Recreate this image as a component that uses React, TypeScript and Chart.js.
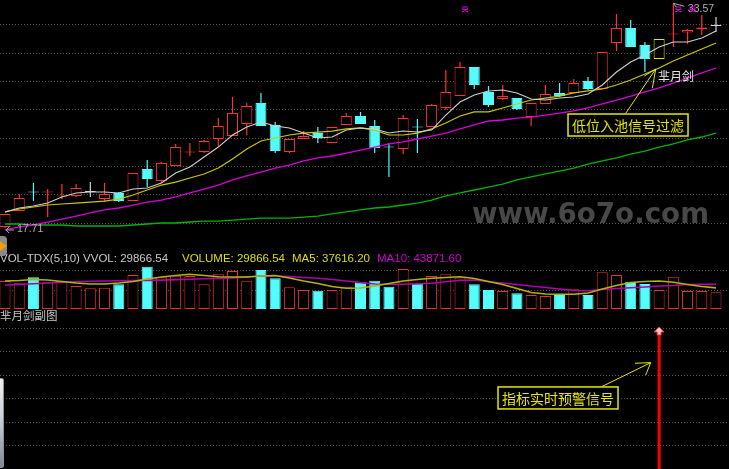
import React, { useEffect, useRef } from "react";
import { Chart, registerables } from "chart.js";

Chart.register(...registerables);

// ---------------- data ----------------
const opens = [17.78, 18.91, 20.29, 20.22, 19.93, 19.97, 20.25, 19.76, 20.18, 19.62,
  21.87, 21.03, 22.09, 23.04, 23.07, 23.99, 24.20, 25.05, 26.53, 24.98,
  23.07, 23.99, 24.42, 23.71, 24.98, 25.61, 24.91, 23.46, 23.29, 24.87,
  24.84, 26.18, 27.03, 29.07, 27.31, 26.81, 26.88, 25.54, 26.46, 27.24,
  27.24, 28.08, 27.52, 30.77, 31.83, 30.63, 29.64, 31.37, 31.51, 31.72, 31.97];
const highs = [18.72, 20.11, 20.89, 20.46, 20.82, 20.82, 20.96, 20.89, 20.25, 21.59,
  22.51, 22.37, 23.64, 23.71, 23.92, 25.47, 26.96, 26.53, 27.24, 25.19,
  23.99, 24.56, 24.84, 24.84, 25.83, 25.90, 25.33, 23.71, 25.69, 25.40,
  26.46, 28.86, 29.43, 29.07, 27.73, 27.80, 26.88, 26.53, 27.80, 27.94,
  28.23, 28.37, 30.13, 32.81, 32.39, 30.84, 31.05, 33.57, 31.76, 32.74, 32.60];
const lows = [17.71, 18.91, 19.62, 18.49, 19.76, 19.90, 19.90, 19.55, 19.55, 19.62,
  20.60, 20.89, 22.09, 22.79, 23.00, 23.50, 24.20, 24.27, 24.91, 23.00,
  23.00, 23.99, 23.71, 23.71, 24.98, 25.05, 23.00, 21.31, 22.93, 23.00,
  24.84, 26.04, 27.03, 27.52, 26.25, 26.74, 26.04, 24.91, 26.46, 26.96,
  27.24, 27.45, 27.52, 30.20, 30.48, 28.72, 29.64, 30.48, 30.70, 31.33, 31.54];
const closes = [18.70, 19.83, 20.22, 20.29, 20.00, 20.53, 20.25, 20.11, 19.62, 21.59,
  21.17, 22.30, 23.43, 23.11, 23.85, 24.91, 25.83, 26.32, 24.91, 23.14,
  23.99, 24.20, 24.06, 24.84, 25.61, 25.05, 23.36, 23.39, 25.47, 24.80,
  26.39, 27.31, 29.07, 27.80, 26.39, 27.03, 26.11, 26.53, 27.17, 27.03,
  27.94, 27.52, 30.13, 31.83, 30.48, 29.64, 31.05, 31.44, 31.68, 31.86, 31.97];

const ma5 = [18.84, 19.12, 19.26, 19.47, 19.90, 20.18, 20.25, 20.25, 20.18, 20.46,
  20.53, 20.88, 21.59, 22.01, 22.72, 23.42, 24.27, 24.84, 25.19, 24.91,
  24.77, 24.41, 24.06, 24.13, 24.62, 24.77, 24.69, 24.41, 24.55, 24.48,
  24.62, 25.68, 26.60, 27.09, 27.38, 27.45, 27.24, 26.81, 26.74, 26.88,
  26.95, 27.17, 27.80, 28.72, 29.42, 29.92, 30.48, 30.84, 30.84, 31.12, 31.61];
const ma10 = [18.84, 19.05, 19.19, 19.33, 19.40, 19.47, 19.54, 19.61, 19.75, 20.04,
  20.39, 20.74, 20.95, 21.24, 21.52, 21.94, 22.58, 23.28, 23.85, 24.06,
  24.27, 24.41, 24.48, 24.55, 24.70, 24.77, 24.62, 24.27, 24.27, 24.41,
  24.70, 25.12, 25.61, 25.90, 25.90, 26.18, 26.46, 26.74, 26.88, 27.02,
  27.24, 27.38, 27.52, 27.80, 28.15, 28.58, 29.00, 29.49, 29.92, 30.34, 30.77];
const ma20 = [17.57, 17.78, 17.92, 18.13, 18.34, 18.55, 18.77, 18.98, 19.12, 19.33,
  19.54, 19.68, 19.90, 20.18, 20.46, 20.74, 21.10, 21.38, 21.66, 21.94,
  22.15, 22.44, 22.65, 22.79, 23.00, 23.21, 23.42, 23.64, 23.78, 23.99,
  24.20, 24.41, 24.70, 24.98, 25.26, 25.33, 25.47, 25.54, 25.68, 25.82,
  25.97, 26.18, 26.46, 26.74, 27.02, 27.31, 27.59, 27.94, 28.29, 28.65, 29.00];
const ma60 = [17.99, 17.99, 17.92, 17.92, 17.92, 17.85, 17.85, 17.85, 17.85, 17.92,
  17.99, 18.06, 18.06, 18.13, 18.20, 18.20, 18.27, 18.34, 18.41, 18.41,
  18.41, 18.48, 18.55, 18.70, 18.84, 18.98, 19.12, 19.19, 19.33, 19.47,
  19.68, 19.97, 20.18, 20.39, 20.60, 20.81, 21.10, 21.31, 21.52, 21.73,
  21.94, 22.22, 22.44, 22.65, 22.93, 23.14, 23.42, 23.64, 23.92, 24.13, 24.41];

const vols = [49840, 45750, 56430, 47530, 49840, 40940, 36850, 37910, 43970, 60520,
  75290, 56430, 59270, 58740, 43970, 61770, 67640, 50370, 69420, 54650,
  38630, 33820, 32570, 33820, 39690, 47530, 50370, 39690, 71200, 45030,
  58740, 61770, 56070, 44140, 33820, 32040, 27950, 24920, 23140, 24920,
  35070, 24920, 65330, 60520, 48590, 44500, 33820, 57490, 32040, 32040, 29866.54];
const volMa5 = [49840, 50730, 52510, 51620, 48950, 46280, 44500, 44500, 46280, 48950,
  53400, 56960, 59630, 61770, 59630, 57490, 56960, 56960, 58740, 59630,
  55180, 49840, 45390, 40050, 36850, 37380, 40940, 45390, 49840, 52510,
  54650, 56070, 57490, 54290, 48950, 43610, 36490, 29370, 26700, 26170,
  26170, 28480, 35600, 41830, 47170, 48950, 49840, 47530, 43610, 40050, 37616.20];
const volMa10 = [42720, 43610, 44860, 46280, 47530, 48420, 49310, 49840, 50200, 50550,
  50910, 51440, 52330, 53040, 53760, 54470, 55360, 56960, 58740, 58740,
  57670, 56070, 54650, 52510, 49840, 47170, 44500, 43970, 43970, 44860,
  45920, 48420, 51090, 51620, 48420, 46280, 43610, 40940, 38270, 35600,
  32930, 32570, 34710, 36490, 37910, 39160, 40940, 41830, 43610, 43970, 43871.60];

// indicator: alarm signal strength per bar (only one fires)
const signals = [0, 0, 0, 0, 0, 0, 0, 0, 0, 0,
  0, 0, 0, 0, 0, 0, 0, 0, 0, 0,
  0, 0, 0, 0, 0, 0, 0, 0, 0, 0,
  0, 0, 0, 0, 0, 0, 0, 0, 0, 0,
  0, 0, 0, 0, 0, 0, 5.9, 0, 0, 0, 0];
const topMarks = [32, 47, 48];

const priceGrid = [18.04, 20.04, 22.04, 24.04, 26.04, 28.04, 30.04, 32.04];
const volGrid = [32570, 67640];
const indGrid = [1, 2, 3, 4, 5, 6];

const labelMain = "芈月剑";
const labelSub = "芈月剑副图";
const noteFilter = "低位入池信号过滤";
const noteWarn = "指标实时预警信号";
const watermark = "www.6o7o.com";

// ---------------- styles ----------------
const RED = "#ff3232";
const CYAN = "#54fcfc";
const WHITE = "#d4d4d4";
const YEL = "#e6e600";
const GRID = "#555555";
const X_MIN = -0.352;
const X_MAX = 50.914;

const N = closes.length;
const sigIdx = signals.findIndex((v) => v > 0);
const candleColor = (i: number) =>
  signals[i] > 0 ? YEL : closes[i] > opens[i] ? RED : closes[i] < opens[i] ? CYAN : WHITE;
const candleFill = (i: number) =>
  signals[i] > 0 || closes[i] > opens[i] ? "#000" : candleColor(i);

const fmt = (v: number) => v.toFixed(2);

const xScale: any = { type: "linear", min: X_MIN, max: X_MAX, display: false, offset: false };
const yGrid = (vals: number[]) => ({
  display: true,
  ticks: { display: false },
  grid: { color: GRID, drawTicks: false, lineWidth: 1 },
  border: { display: false, dash: [1, 2] },
  afterBuildTicks: (axis: any) => {
    axis.ticks = vals.map((v) => ({ value: v }));
  },
});

const baseOpts: any = {
  animation: false,
  responsive: false,
  maintainAspectRatio: false,
  devicePixelRatio: 1,
  layout: { padding: 0 },
  plugins: { legend: { display: false }, tooltip: { enabled: false } },
  events: [],
};

const line = (data: number[], color: string, width: number) => ({
  type: "line",
  data: data.map((v, i) => ({ x: i, y: v })),
  borderColor: color,
  borderWidth: width,
  pointRadius: 0,
  tension: 0,
  fill: false,
  order: 0,
});

function arrowLines(ctx: any, tx: number, ty: number, from: number[], h1: number[], h2: number[]) {
  ctx.beginPath();
  ctx.moveTo(tx + from[0], ty + from[1]);
  ctx.lineTo(tx, ty);
  ctx.moveTo(tx + h1[0], ty + h1[1]);
  ctx.lineTo(tx, ty);
  ctx.lineTo(tx + h2[0], ty + h2[1]);
  ctx.stroke();
}

function noteBox(ctx: any, bx: number, by: number, text: string) {
  ctx.fillStyle = "#000";
  ctx.fillRect(bx, by, 120, 22);
  ctx.strokeStyle = YEL;
  ctx.lineWidth = 1.5;
  ctx.strokeRect(bx, by, 120, 22);
  ctx.fillStyle = YEL;
  ctx.font = '14px "Noto Sans CJK SC", sans-serif';
  ctx.textAlign = "center";
  ctx.textBaseline = "middle";
  ctx.fillText(text, bx + 60, by + 11.5);
}

const mainDecor = {
  id: "mainDecor",
  beforeDatasetsDraw(chart: any) {
    const { ctx } = chart;
    ctx.save();
    ctx.font = 'bold 29px "DejaVu Sans", sans-serif';
    const w = ctx.measureText(watermark).width;
    ctx.translate(472, 223);
    ctx.scale(237 / w, 1);
    ctx.fillStyle = "#484848";
    ctx.textBaseline = "alphabetic";
    ctx.fillText(watermark, 0, 0);
    ctx.restore();
  },
  afterDatasetsDraw(chart: any) {
    const { ctx } = chart;
    const x = chart.scales.x;
    const y = chart.scales.y;
    ctx.save();
    // lowest low marker
    let lo = 0;
    let hi = 0;
    lows.forEach((v, i) => { if (v < lows[lo]) lo = i; });
    highs.forEach((v, i) => { if (v > highs[hi]) hi = i; });
    const lx = x.getPixelForValue(lo);
    const ly = y.getPixelForValue(lows[lo]);
    ctx.strokeStyle = "#a8a8a8";
    ctx.lineWidth = 1;
    ctx.beginPath();
    ctx.moveTo(lx + 9, ly + 2);
    ctx.lineTo(lx + 1, ly + 2);
    ctx.moveTo(lx + 4, ly - 1);
    ctx.lineTo(lx + 1, ly + 2);
    ctx.lineTo(lx + 4, ly + 5);
    ctx.stroke();
    ctx.fillStyle = "#b0b0b0";
    ctx.font = '10.5px "Liberation Sans", Arial, sans-serif';
    ctx.textAlign = "left";
    ctx.textBaseline = "alphabetic";
    ctx.fillText(fmt(lows[lo]), lx + 12, ly + 4.5);
    // highest high marker
    const hx = x.getPixelForValue(hi);
    const hy = y.getPixelForValue(highs[hi]);
    ctx.beginPath();
    ctx.moveTo(hx, hy);
    ctx.lineTo(hx + 11, hy + 3);
    ctx.moveTo(hx, hy);
    ctx.lineTo(hx + 3, hy + 4);
    ctx.stroke();
    ctx.font = '10.5px "Liberation Sans", Arial, sans-serif';
    ctx.fillText(fmt(highs[hi]), hx + 14.5, hy + 8.8);
    // magenta marks
    ctx.strokeStyle = "#e000e0";
    ctx.lineWidth = 1.2;
    topMarks.forEach((i) => {
      const cx = x.getPixelForValue(i) + 5;
      ctx.beginPath();
      ctx.moveTo(cx - 3, 7);
      ctx.lineTo(cx + 3, 7);
      ctx.moveTo(cx - 3, 8.5);
      ctx.lineTo(cx + 3, 12);
      ctx.moveTo(cx + 3, 8.5);
      ctx.lineTo(cx - 3, 12);
      ctx.stroke();
    });
    // annotation arrow + box
    const tx = x.getPixelForValue(sigIdx) - 3.4;
    const ty = y.getPixelForValue(ma10[sigIdx]) + 1;
    ctx.strokeStyle = YEL;
    ctx.lineWidth = 1;
    arrowLines(ctx, tx, ty, [-30, 44.3], [-3.4, 19.3], [-11.4, 7]);
    noteBox(ctx, tx - 87.7, ty + 45, noteFilter);
    ctx.fillStyle = "#e8e8e8";
    ctx.font = '12px "Noto Sans CJK SC", sans-serif';
    ctx.textAlign = "left";
    ctx.textBaseline = "middle";
    ctx.fillText(labelMain, tx + 2.3, ty + 7.5);
    ctx.restore();
  },
};

const indDecor = {
  id: "indDecor",
  afterDatasetsDraw(chart: any) {
    const { ctx } = chart;
    const x = chart.scales.x;
    const y = chart.scales.y;
    ctx.save();
    signals.forEach((v, i) => {
      if (v <= 0) return;
      const cx = x.getPixelForValue(i);
      const top = y.getPixelForValue(v) - 4;
      ctx.beginPath();
      ctx.moveTo(cx, top);
      ctx.lineTo(cx + 5, top + 5);
      ctx.lineTo(cx + 2, top + 5);
      ctx.lineTo(cx + 2, top + 8);
      ctx.lineTo(cx - 2, top + 8);
      ctx.lineTo(cx - 2, top + 5);
      ctx.lineTo(cx - 5, top + 5);
      ctx.closePath();
      ctx.fillStyle = "#ffc8c8";
      ctx.fill();
      ctx.strokeStyle = "#ff3030";
      ctx.lineWidth = 1;
      ctx.stroke();
    });
    const tx = x.getPixelForValue(sigIdx) - 8.4;
    const ty = y.getPixelForValue(signals[sigIdx]) + 31.7;
    ctx.strokeStyle = YEL;
    ctx.lineWidth = 1;
    arrowLines(ctx, tx, ty, [-49, 24], [-15.7, 0.6], [-5, 12.3]);
    noteBox(ctx, tx - 152.7, ty + 24.3, noteWarn);
    ctx.restore();
  },
};

export default function App() {
  const mainRef = useRef<HTMLCanvasElement>(null);
  const volRef = useRef<HTMLCanvasElement>(null);
  const indRef = useRef<HTMLCanvasElement>(null);

  useEffect(() => {
    document.body.style.margin = "0";
    document.body.style.background = "#000";
    const charts: any[] = [];
    const idx = closes.map((_, i) => i);

    charts.push(
      new Chart(mainRef.current as any, {
        type: "bar",
        data: {
          datasets: [
            line(ma5, "#cfcfcf", 1.1),
            line(ma10, "#c8c800", 1.2),
            line(ma20, "#d800d8", 1.3),
            line(ma60, "#00b400", 1.3),
            {
              type: "bar",
              data: idx.map((i) => ({ x: i, y: [opens[i], closes[i]] })),
              backgroundColor: idx.map(candleFill),
              borderColor: idx.map(candleColor),
              borderWidth: 1,
              borderSkipped: false,
              barThickness: 11,
              minBarLength: 1,
              grouped: false,
              inflateAmount: 0,
              order: 1,
            },
            {
              type: "bar",
              data: idx.map((i) => ({ x: i, y: [lows[i], highs[i]] })),
              backgroundColor: idx.map(candleColor),
              borderWidth: 0,
              barThickness: 1.2,
              grouped: false,
              inflateAmount: 0,
              order: 2,
            },
          ] as any,
        },
        options: {
          ...baseOpts,
          scales: { x: xScale, y: { type: "linear", min: 16.155, max: 33.8, ...yGrid(priceGrid) } },
        },
        plugins: [mainDecor],
      } as any)
    );

    charts.push(
      new Chart(volRef.current as any, {
        type: "bar",
        data: {
          datasets: [
            line(volMa5, "#b4b400", 1.6),
            line(volMa10, "#b000b0", 1.6),
            {
              type: "bar",
              data: idx.map((i) => ({ x: i, y: vols[i] })),
              backgroundColor: idx.map((i) => (closes[i] < opens[i] ? CYAN : "#000")),
              borderColor: idx.map((i) => (closes[i] < opens[i] ? CYAN : "#e83030")),
              borderWidth: 1,
              borderSkipped: false,
              barThickness: 11,
              grouped: false,
              inflateAmount: 0,
              order: 1,
            },
          ] as any,
        },
        options: {
          ...baseOpts,
          scales: { x: xScale, y: { type: "linear", min: -1780, max: 87220, ...yGrid(volGrid) } },
        },
      } as any)
    );

    charts.push(
      new Chart(indRef.current as any, {
        type: "bar",
        data: {
          datasets: [
            {
              type: "bar",
              data: idx.map((i) => ({ x: i, y: signals[i] })),
              backgroundColor: "#ff0000",
              borderWidth: 0,
              barThickness: 3,
              grouped: false,
              inflateAmount: 0,
            },
          ] as any,
        },
        options: {
          ...baseOpts,
          scales: { x: xScale, y: { type: "linear", min: 0, max: 6.3675, ...yGrid(indGrid) } },
        },
        plugins: [indDecor],
      } as any)
    );

    return () => charts.forEach((c) => c.destroy());
  }, []);

  const legendFont = '11.5px "Liberation Sans", Arial, sans-serif';
  return (
    <div style={{ position: "fixed", left: 0, top: 0, width: 729, height: 469, background: "#000", overflow: "hidden" }}>
      <canvas ref={mainRef} width={729} height={250} style={{ position: "absolute", left: 0, top: 0 }} />
      <canvas ref={volRef} width={729} height={50} style={{ position: "absolute", left: 0, top: 260 }} />
      <canvas ref={indRef} width={729} height={149} style={{ position: "absolute", left: 0, top: 320 }} />
      <div style={{ position: "absolute", left: 0, top: 251, width: 729, height: 14, font: legendFont, lineHeight: "14px", whiteSpace: "pre" }}>
        <span style={{ position: "absolute", left: 0, color: "#c8c8c8" }}>{`VOL-TDX(5,10) VVOL: ${fmt(vols[N - 1])}`}</span>
        <span style={{ position: "absolute", left: 182, color: "#dede00" }}>{`VOLUME: ${fmt(vols[N - 1])}`}</span>
        <span style={{ position: "absolute", left: 292, color: "#dede00" }}>{`MA5: ${fmt(volMa5[N - 1])}`}</span>
        <span style={{ position: "absolute", left: 377, color: "#d000d0" }}>{`MA10: ${fmt(volMa10[N - 1])}`}</span>
      </div>
      <div style={{ position: "absolute", left: 0, top: 309, font: '11.5px "Noto Sans CJK SC", sans-serif', lineHeight: "12px", color: "#c8c8c8", whiteSpace: "pre" }}>
        {labelSub}
      </div>
      <div style={{ position: "absolute", left: -4, top: 236, width: 11, height: 20, background: "#8a8a8a", borderRadius: 4 }} />
      <div style={{ position: "absolute", left: 0, top: 241, width: 0, height: 0, borderTop: "5px solid transparent", borderBottom: "5px solid transparent", borderLeft: "7px solid #f0a000" }} />
      <div style={{ position: "absolute", left: -2, top: 378, width: 4, height: 88, background: "linear-gradient(#f0f0f0, #c8d0d8 45%, #7a8898)", border: "1px solid #909090", borderRadius: 2 }} />
    </div>
  );
}
